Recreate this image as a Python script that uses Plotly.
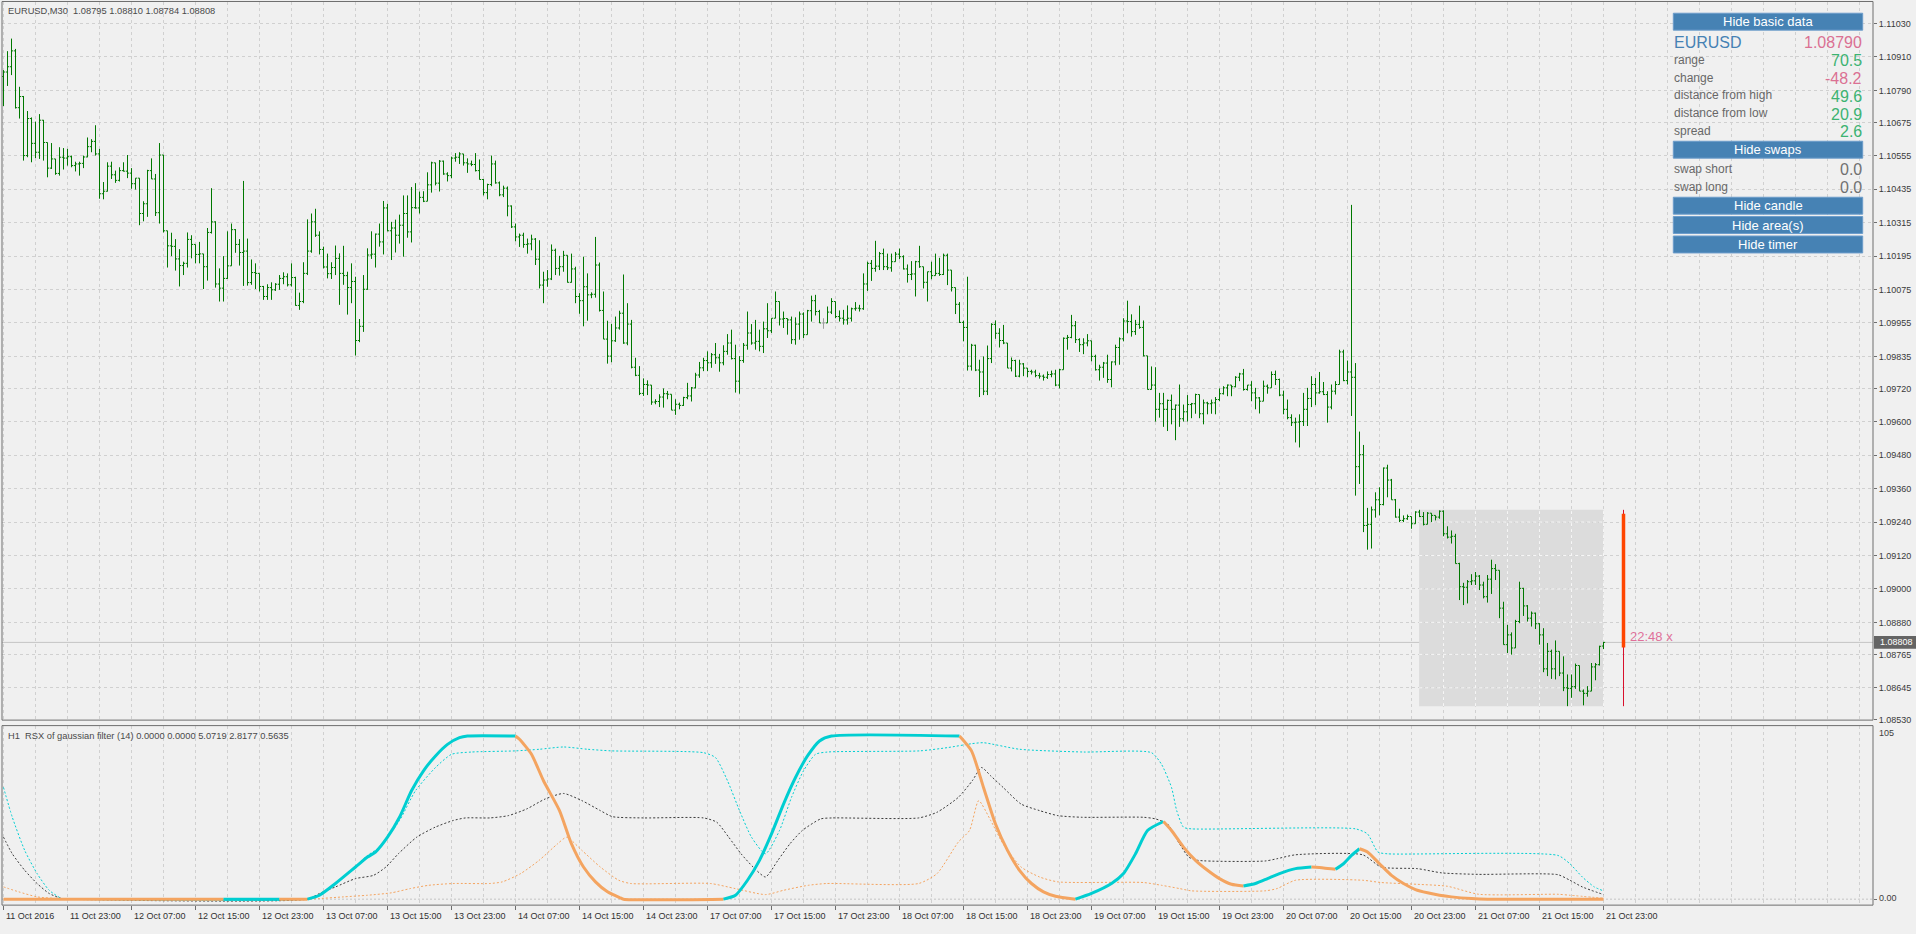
import plotly.graph_objects as go

W, H = 1916, 934
FONT = "Liberation Sans, Arial, Helvetica, sans-serif"

# ---------------- DATA ----------------
# EURUSD M30 bars, prices in points (1 point = 0.00001), bar 0 = 11 Oct 2016 15:00
high_pts = [
    110863,110931,110976,110939,110803,110770,110716,110693,110678,110705,
    110684,110601,110601,110544,110586,110583,110580,110556,110534,110534,
    110556,110621,110615,110665,110580,110461,110532,110534,110502,110514,
    110532,110558,110511,110475,110475,110392,110505,110546,110490,110601,
    110558,110286,110279,110256,110220,110175,110280,110270,110234,110246,
    110202,110296,110439,110320,110151,110195,110284,110312,110292,110256,
    110465,110258,110183,110169,110133,110088,110094,110101,110098,110127,
    110137,110133,110169,110121,110064,110173,110327,110348,110365,110284,
    110229,110204,110173,110233,110205,110232,110139,110169,110121,109969,
    110127,110223,110284,110276,110312,110393,110383,110318,110326,110344,
    110413,110413,110443,110457,110427,110428,110496,110534,110530,110540,
    110538,110496,110552,110565,110568,110562,110546,110538,110565,110542,
    110472,110455,110556,110538,110463,110448,110445,110377,110312,110276,
    110279,110258,110272,110260,110252,110139,110145,110237,110222,110196,
    110214,110198,110204,110157,110062,110193,110133,110065,110264,110172,
    110068,109963,109952,109978,109999,110129,110026,109966,109830,109800,
    109756,109749,109699,109681,109699,109720,109711,109699,109681,109669,
    109690,109740,109725,109776,109815,109830,109853,109847,109883,109844,
    109875,109915,109931,109877,109836,109883,109996,109951,109966,109931,
    109960,110026,109972,110068,109994,109996,109966,109978,109975,109996,
    109993,110002,110053,110056,110002,109972,110014,110044,110032,110000,
    110002,110018,110010,110030,110020,110133,110175,110181,110250,110210,
    110222,110204,110204,110210,110222,110198,110165,110177,110178,110232,
    110157,110139,110175,110204,110189,110204,110204,110145,110082,110030,
    109963,110121,109880,109877,109823,109835,109874,109954,109964,109936,
    109948,109883,109831,109823,109823,109811,109793,109787,109787,109776,
    109770,109781,109784,109787,109790,109903,109912,109984,109962,109900,
    109900,109915,109891,109841,109805,109815,109841,109817,109877,109903,
    109972,110035,109986,109966,110017,109964,109837,109799,109796,109704,
    109704,109680,109698,109662,109734,109662,109696,109668,109701,109698,
    109680,109672,109680,109689,109720,109728,109734,109732,109764,109776,
    109790,109732,109746,109722,109689,109748,109734,109781,109784,109755,
    109712,109680,109627,109615,109627,109704,109722,109764,109758,109779,
    109743,109710,109734,109746,109859,109859,109820,110379,109811,109565,
    109517,109291,109296,109347,109365,109436,109446,109395,109323,109288,
    109264,109267,109258,109279,109284,109276,109276,109272,109264,109282,
    109282,109225,109210,109198,109094,109022,109032,109053,109061,109050,
    109026,109050,109105,109089,109067,108954,108871,108844,108889,109026,
    109004,108942,108919,108915,108877,108859,108806,108782,108815,108770,
    108758,108693,108693,108732,108725,108639,108651,108734,108734,108796,
    108810,
]
low_pts = [
    110734,110806,110845,110725,110689,110538,110550,110532,110547,110544,
    110538,110478,110508,110487,110484,110506,110520,110514,110499,110484,
    110511,110550,110568,110556,110401,110399,110427,110472,110458,110463,
    110499,110475,110437,110434,110306,110320,110336,110472,110339,110312,
    110280,110154,110195,110143,110086,110127,110154,110187,110169,110169,
    110077,110107,110276,110082,110032,110032,110113,110161,110207,110161,
    110088,110089,110092,110077,110068,110038,110038,110038,110070,110074,
    110094,110086,110086,110017,110002,110026,110127,110207,110264,110201,
    110151,110115,110113,110127,110020,110092,109985,110026,109838,109886,
    109923,110074,110185,110154,110229,110201,110284,110181,110208,110240,
    110193,110261,110244,110365,110348,110389,110392,110423,110449,110427,
    110487,110463,110475,110534,110526,110520,110494,110518,110499,110470,
    110413,110399,110446,110455,110410,110407,110338,110296,110248,110228,
    110225,110204,110216,110163,110079,110026,110085,110109,110127,110125,
    110139,110100,110100,110026,109988,109943,109963,110044,110046,109996,
    109897,109809,109814,109887,109931,109880,109875,109792,109764,109696,
    109693,109696,109661,109663,109653,109651,109681,109642,109625,109645,
    109657,109681,109673,109720,109758,109782,109782,109794,109808,109780,
    109803,109841,109824,109705,109701,109812,109859,109877,109859,109853,
    109847,109901,109919,109996,109946,109937,109913,109880,109877,109895,
    109901,109913,109960,109982,109955,109934,109955,109987,109972,109960,
    109949,109949,109960,109999,109996,110002,110070,110106,110139,110145,
    110145,110145,110139,110175,110184,110147,110100,110109,110050,110153,
    110079,110032,110112,110129,110124,110127,110091,110068,109987,109955,
    109889,109784,109784,109782,109689,109696,109696,109811,109898,109867,
    109879,109793,109781,109761,109760,109764,109760,109770,109760,109755,
    109748,109754,109760,109728,109720,109787,109859,109900,109883,109851,
    109843,109871,109817,109784,109748,109758,109740,109724,109803,109805,
    109889,109918,109906,109912,109934,109835,109716,109716,109601,109615,
    109582,109567,109591,109534,109582,109601,109601,109613,109629,109613,
    109591,109627,109629,109627,109674,109698,109692,109692,109724,109746,
    109712,109712,109674,109645,109630,109701,109701,109724,109732,109692,
    109627,109609,109585,109526,109508,109585,109585,109653,109660,109701,
    109696,109597,109645,109698,109734,109746,109734,109621,109335,109377,
    109204,109141,109145,109256,109264,109300,109329,109320,109256,109240,
    109240,109248,109216,109234,109258,109228,109240,109240,109246,109252,
    109189,109181,109163,109091,108960,108942,108948,109014,109014,108996,
    108966,108951,108982,109032,108895,108800,108770,108764,108788,108877,
    108903,108883,108865,108856,108800,108701,108687,108677,108675,108687,
    108633,108579,108609,108641,108633,108582,108613,108645,108672,108725,
    108784,
]
close_pts = [
    110856,110875,110932,110728,110768,110556,110689,110600,110568,110683,
    110603,110511,110544,110492,110550,110547,110552,110520,110526,110528,
    110551,110588,110607,110562,110419,110428,110518,110487,110467,110502,
    110500,110493,110455,110475,110348,110383,110502,110472,110351,110558,
    110286,110232,110230,110185,110161,110169,110255,110237,110201,110203,
    110157,110280,110318,110095,110080,110115,110160,110290,110237,110208,
    110213,110100,110136,110133,110086,110050,110082,110074,110094,110115,
    110121,110092,110118,110018,110032,110133,110213,110318,110270,110219,
    110156,110132,110154,110187,110133,110125,110082,110104,109892,109943,
    110076,110199,110202,110274,110246,110368,110286,110296,110270,110306,
    110348,110282,110369,110368,110406,110392,110451,110530,110457,110536,
    110490,110484,110547,110550,110562,110530,110526,110524,110502,110470,
    110423,110452,110526,110458,110415,110439,110375,110300,110264,110270,
    110237,110239,110256,110184,110091,110109,110113,110216,110151,110157,
    110198,110101,110149,110050,110035,110085,110056,110058,110163,110000,
    109897,109836,109891,109937,109990,109883,109951,109796,109767,109702,
    109734,109732,109671,109673,109689,109701,109699,109642,109663,109659,
    109687,109693,109722,109768,109794,109820,109812,109841,109830,109812,
    109853,109883,109827,109746,109820,109875,109919,109883,109889,109871,
    109934,109927,109972,110032,109969,109971,109966,109895,109951,109987,
    109913,109999,110035,109996,109955,109955,109994,110032,109978,109972,
    109966,109972,110006,110008,110006,110095,110169,110151,110159,110204,
    110157,110153,110175,110202,110193,110149,110129,110131,110175,110157,
    110101,110139,110125,110133,110129,110198,110145,110082,110022,109957,
    109939,109800,109875,109786,109779,109710,109827,109950,109918,109892,
    109883,109793,109820,109764,109808,109793,109781,109779,109766,109764,
    109760,109770,109772,109732,109787,109900,109903,109945,109895,109877,
    109883,109891,109835,109787,109796,109811,109752,109815,109867,109898,
    109962,109960,109924,109950,109939,109837,109716,109732,109645,109665,
    109645,109677,109645,109660,109611,109636,109662,109665,109698,109629,
    109668,109665,109668,109680,109701,109722,109732,109726,109760,109772,
    109716,109732,109704,109686,109674,109728,109722,109770,109752,109696,
    109645,109615,109597,109599,109601,109645,109684,109734,109704,109708,
    109698,109653,109710,109734,109851,109748,109779,109760,109439,109482,
    109228,109232,109284,109320,109303,109434,109391,109320,109258,109246,
    109252,109260,109234,109276,109260,109232,109272,109264,109258,109279,
    109198,109186,109189,109091,109008,109006,109026,109029,109046,109014,
    108972,109035,109073,109067,108931,108800,108835,108788,108883,109002,
    108939,108895,108913,108875,108835,108713,108776,108713,108776,108698,
    108645,108643,108649,108725,108633,108625,108633,108720,108728,108794,
    108808,
]
first_open_pts = 110840
last_open_pts = 108795

# time-axis labels (bar index -> text)
label_bars = [0, 16, 32, 48, 64, 80, 96, 112, 128, 144, 160, 176, 192, 208,
              224, 240, 256, 272, 288, 304, 320, 336, 352, 368, 384, 400]
label_texts = ["11 Oct 2016", "11 Oct 23:00", "12 Oct 07:00", "12 Oct 15:00", "12 Oct 23:00",
               "13 Oct 07:00", "13 Oct 15:00", "13 Oct 23:00", "14 Oct 07:00", "14 Oct 15:00",
               "14 Oct 23:00", "17 Oct 07:00", "17 Oct 15:00", "17 Oct 23:00", "18 Oct 07:00",
               "18 Oct 15:00", "18 Oct 23:00", "19 Oct 07:00", "19 Oct 15:00", "19 Oct 23:00",
               "20 Oct 07:00", "20 Oct 15:00", "20 Oct 23:00", "21 Oct 07:00", "21 Oct 15:00",
               "21 Oct 23:00"]

price_ticks = [1.11030, 1.10910, 1.10790, 1.10675, 1.10555, 1.10435, 1.10315, 1.10195,
               1.10075, 1.09955, 1.09835, 1.09720, 1.09600, 1.09480, 1.09360, 1.09240,
               1.09120, 1.09000, 1.08880, 1.08765, 1.08645, 1.08530]
price_tick_text = ["%.5f" % v for v in price_ticks]

last_price = 1.08808
chart_title = "EURUSD,M30  1.08795 1.08810 1.08784 1.08808"
ind_title = "H1  RSX of gaussian filter (14) 0.0000 0.0000 5.0719 2.8177 0.5635"

# current day (21 Oct) area and candle
day_first_bar, day_last_bar = 354, 400
day_open, day_high, day_low, day_close = 1.09270, 1.09284, 1.08579, 1.08790
candle_bar = 405
timer_text = "22:48 x"

# RSX main line (bar, value, direction of following segment)
rsx_x = [0, 55, 69, 76, 79, 83, 88, 91, 93, 96, 99, 102, 105, 108, 111, 114, 116, 128, 129, 132,
         135, 139, 142, 145, 148, 151, 154, 155, 180, 183, 186, 189, 192, 195, 198, 201, 204, 207,
         239, 242, 245, 248, 251, 254, 257, 260, 263, 268, 272, 277, 280, 283, 286, 290, 292, 295,
         298, 301, 304, 307, 310, 313, 316, 319, 323, 327, 330, 333, 335, 337, 339, 341, 344, 347,
         350, 353, 356, 359, 362, 367, 371, 400]
rsx_v = [0, 0, 0, 0, 2.4, 9.6, 19.7, 25.8, 28.9, 38, 50.2, 66.5, 78.7, 87.8, 94.9, 99, 100, 100, 98, 88.8,
         72.6, 54.3, 33.9, 19.7, 10.6, 4.5, 1, 0, 0, 2.4, 11.6, 23.8, 40, 58.3, 74.6, 87.8, 97, 100,
         100, 90.9, 68.5, 46.1, 29.9, 17.7, 9.6, 4.5, 1.8, 0, 3.5, 9.6, 15.7, 27.8, 42.1, 47.6, 42.1, 31.9,
         23.8, 17.7, 12.6, 9.1, 8.1, 9.6, 12.6, 15.7, 18.7, 19.7, 19.1, 18.3, 21.7, 26.8, 30.9, 28.9, 21.7, 14.6,
         9.6, 5.9, 3.9, 2.4, 1.4, 0.4, 0, 0]
rsx_dir = ["d", "u", "d", "u", "u", "u", "u", "u", "u", "u", "u", "u", "u", "u", "u", "u", "u", "d", "d", "d",
           "d", "d", "d", "d", "d", "d", "d", "d", "u", "u", "u", "u", "u", "u", "u", "u", "u", "u",
           "d", "d", "d", "d", "d", "d", "d", "d", "d", "u", "u", "u", "u", "u", "u", "d", "d", "d",
           "d", "d", "d", "d", "u", "u", "u", "u", "u", "d", "d", "u", "u", "u", "d", "d", "d", "d",
           "d", "d", "d", "d", "d", "d", "d", "d"]

up_x = [0, 2.2, 5.3, 8.4, 11.4, 14.5, 16, 76, 79, 85, 91, 94, 99, 103, 108, 112, 117, 128, 134, 140,
        146, 152, 175, 178, 181, 184, 187, 190.5, 194, 197, 200, 203, 206, 229, 236, 242, 245, 254, 270, 287,
        289.5, 292, 293.3, 295, 297, 338, 341, 343.6, 346, 388.6, 391.6, 394.7, 397.7, 400]
up_v = [68.5, 50.2, 29.9, 15.7, 5.5, 0.4, 0, 0, 2.4, 13.6, 26.8, 31.9, 48.2, 66.5, 80.7, 88.8, 90.2, 90.9, 91.9, 93.3,
        91.9, 90.9, 89.8, 86.8, 72.6, 54.3, 38, 27.8, 42.1, 62.4, 78.7, 88.8, 90.2, 90.9, 92.9, 95.3, 95.9, 91.9, 90.2, 89.8,
        82.7, 68.5, 54.3, 44.1, 43.1, 43.1, 40, 28.9, 27.8, 26.8, 21.7, 13.6, 7.5, 5.07]

mid_x = [0, 2.2, 5.3, 8.4, 11.4, 14.5, 16, 76, 79, 83, 88, 92.5, 95.6, 98.7, 103.3, 107.9, 112.4, 115.5, 121.6, 126.2,
         130.8, 135.4, 140, 144.6, 149.2, 152.2, 160, 175, 178.3, 181.3, 184.4, 187.4, 190.5, 193.6, 196.6, 199.7, 204.3, 207.3, 228.8, 233.4,
         238.7, 242.2, 244.5, 246.8, 249.9, 254.4, 259, 263.6, 269.6, 285, 288, 291, 294, 296.3, 298.6, 315.4, 318.4, 323, 339.8, 344.4,
         353.5, 359.6, 368.8, 388.6, 391.6, 394.7, 400]
mid_v = [38, 27.8, 17.7, 9.6, 3.5, 0.4, 0, 0, 3.5, 7.5, 12.6, 14.6, 19.7, 27.8, 38, 44.1, 48.2, 49.8, 49.8, 51.2,
         55.3, 61.4, 64.8, 60.4, 54.3, 50.6, 49.8, 49.8, 47.2, 38, 27.8, 19.7, 13.6, 23.8, 33.9, 42.1, 49.2, 49.8, 49.8, 53.3,
         62.4, 72.6, 80.7, 75.6, 68.5, 58.3, 54.3, 51.2, 50.2, 50.2, 49.2, 46.1, 33.9, 25.8, 23.8, 23.4, 24.8, 27.2, 27.2, 19.7,
         18.7, 16.1, 15.2, 15, 11.6, 7.5, 2.82]

lo_x = [0, 3.8, 8.4, 14.5, 16, 76, 79, 85, 91, 97, 101.7, 106.3, 112.4, 121.6, 124.7, 129.3, 133.9, 138.5, 140.8, 144.6,
        149.2, 153.8, 156.8, 176.7, 182.9, 190.5, 195.1, 201.2, 205.8, 228.8, 233.4, 238.7, 241.5, 243.8, 246.8, 249.9, 254.4, 259, 263.6, 285,
        289.5, 294, 297, 315.4, 318.4, 323, 339.8, 344.4, 353.5, 361, 368.8, 388.6, 391.6, 400]
lo_v = [7.5, 4.5, 1.4, 0.2, 0, 0, 0.4, 1.4, 2.4, 3.9, 6.5, 8.5, 9.6, 9.6, 10.6, 15.7, 23.8, 33.9, 38, 29.9,
        19.7, 11.6, 9.6, 9.6, 6.5, 2.8, 5.5, 8.5, 9.6, 9.6, 15.7, 35, 42.1, 60.4, 48.2, 33.9, 19.7, 13.6, 10.6, 10.2,
        8.5, 6.5, 5.1, 5.1, 6.5, 11.6, 11.6, 10.2, 9.1, 7.9, 3, 3, 2.4, 0.56]

# info panel
panel_symbol, panel_price = "EURUSD", "1.08790"
panel_labels = ["range", "change", "distance from high", "distance from low", "spread"]
panel_values = ["70.5", "-48.2", "49.6", "20.9", "2.6"]
swap_labels = ["swap short", "swap long"]
swap_values = ["0.0", "0.0"]
button_texts = ["Hide basic data", "Hide swaps", "Hide candle", "Hide area(s)", "Hide timer"]

# ---------------- GEOMETRY / STYLE ----------------
BG = "#f0f0f0"
GRID = "#d0d0d0"
FRAME = "#6e6e6e"
BAR_GREEN = "#007800"
CYAN = "#00ced1"
ORANGE = "#f4a460"

PL, PR = 2, 1873
MAIN_T, MAIN_B = 2, 724
IND_T, IND_B = 730, 910
BAR0_PX = 3.5   # pixel centre of bar 0 (crisp 1px bars)
XR = [(PL - BAR0_PX) / 4.0, (PR - BAR0_PX) / 4.0]
MAIN_YR = [1.10910 - (MAIN_B - 57.3) / 28000.0, 1.10910 + (57.3 - MAIN_T) / 28000.0]
IND_YR = [-(IND_B - 904) / 1.64, (904 - IND_T) / 1.64]


def fx(px):
    return px / W


def fy(py):
    return 1 - py / H


MAIN_DOM = [fy(MAIN_B), fy(MAIN_T)]
IND_DOM = [fy(IND_B), fy(IND_T)]


def price_paper(p):
    return MAIN_DOM[0] + (p - MAIN_YR[0]) / (MAIN_YR[1] - MAIN_YR[0]) * (MAIN_DOM[1] - MAIN_DOM[0])


# ---------------- BUILD ----------------
n = len(close_pts)
bars = list(range(n))
opens = [first_open_pts] + close_pts[:-1]
opens[-1] = last_open_pts
O = [v / 1e5 for v in opens]
C = [v / 1e5 for v in close_pts]
Hh = [max(h, o, c) / 1e5 for h, o, c in zip(high_pts, opens, close_pts)]
Ll = [min(l, o, c) / 1e5 for l, o, c in zip(low_pts, opens, close_pts)]

norm = [i for i in bars if opens[i] != close_pts[i]]
doji = [i for i in bars if opens[i] == close_pts[i]]

fig = go.Figure()
fig.add_trace(go.Ohlc(
    x=norm, open=[O[i] for i in norm], high=[Hh[i] for i in norm],
    low=[Ll[i] for i in norm], close=[C[i] for i in norm],
    increasing=dict(line=dict(color=BAR_GREEN, width=1)),
    decreasing=dict(line=dict(color=BAR_GREEN, width=1)),
    tickwidth=0.4, xaxis="x", yaxis="y", hoverinfo="skip", showlegend=False))
if doji:
    fig.add_trace(go.Ohlc(
        x=doji, open=[O[i] for i in doji], high=[Hh[i] for i in doji],
        low=[Ll[i] for i in doji], close=[C[i] for i in doji],
        increasing=dict(line=dict(color="#a0a0a0", width=1)),
        decreasing=dict(line=dict(color="#a0a0a0", width=1)),
        tickwidth=0.4, xaxis="x", yaxis="y", hoverinfo="skip", showlegend=False))

# daily candle (timer)
fig.add_trace(go.Scatter(x=[candle_bar, candle_bar], y=[day_low, day_high], mode="lines",
                         line=dict(color="#d8102c", width=1), xaxis="x", yaxis="y",
                         hoverinfo="skip", showlegend=False))
fig.add_trace(go.Scatter(x=[candle_bar, candle_bar], y=[day_open, day_close], mode="lines",
                         line=dict(color="#ff4500", width=3.5), xaxis="x", yaxis="y",
                         hoverinfo="skip", showlegend=False))

# indicator dotted lines
for xs, vs, col in [(lo_x, lo_v, ORANGE), (mid_x, mid_v, "#3c3c3c"), (up_x, up_v, CYAN)]:
    fig.add_trace(go.Scatter(x=xs, y=vs, mode="lines",
                             line=dict(color=col, width=1, dash="2px,2px", shape="spline", smoothing=0.6),
                             xaxis="x2", yaxis="y2", hoverinfo="skip", showlegend=False))

# indicator main line, split by direction
segs = []
cur = None
for i in range(len(rsx_x) - 1):
    d = rsx_dir[i]
    if cur is None or cur["d"] != d:
        cur = {"d": d, "x": [rsx_x[i]], "y": [rsx_v[i]]}
        segs.append(cur)
    cur["x"].append(rsx_x[i + 1])
    cur["y"].append(rsx_v[i + 1])
for s in segs:
    fig.add_trace(go.Scatter(x=s["x"], y=s["y"], mode="lines",
                             line=dict(color=CYAN if s["d"] == "u" else ORANGE, width=3,
                                       shape="spline", smoothing=0.6),
                             xaxis="x2", yaxis="y2", hoverinfo="skip", showlegend=False))

shapes = []
# day area box
shapes.append(dict(type="rect", xref="x", yref="y", x0=day_first_bar - 0.1, x1=day_last_bar,
                   y0=day_low, y1=day_high, fillcolor="#dcdcdc", line=dict(width=0), layer="below"))
# lighter grid inside the area
for b in range(0, 470, 8):
    if day_first_bar < b <= day_last_bar:
        shapes.append(dict(type="line", xref="x", yref="y", x0=b, x1=b, y0=day_low, y1=day_high,
                           line=dict(color="#f6f6f6", width=1, dash="3px,3px"), layer="between"))
for p in price_ticks:
    if day_low < p < day_high:
        shapes.append(dict(type="line", xref="x", yref="y", x0=day_first_bar - 0.1, x1=day_last_bar,
                           y0=p, y1=p, line=dict(color="#f6f6f6", width=1, dash="3px,3px"),
                           layer="between"))
# bid line
shapes.append(dict(type="line", xref="paper", yref="paper", x0=fx(PL), x1=fx(PR),
                   y0=price_paper(last_price), y1=price_paper(last_price),
                   line=dict(color="#c4c4c4", width=1), layer="between"))
# indicator zero level
shapes.append(dict(type="line", xref="x2", yref="y2", x0=XR[0], x1=XR[1], y0=0, y1=0,
                   line=dict(color="#c4c4c4", width=1, dash="2px,2px"), layer="below"))
# frames
shapes.append(dict(type="rect", xref="paper", yref="paper", x0=fx(PL), x1=fx(PR),
                   y0=fy(MAIN_B), y1=fy(MAIN_T - 0.5), line=dict(color=FRAME, width=1),
                   fillcolor="rgba(0,0,0,0)", layer="above"))
shapes.append(dict(type="rect", xref="paper", yref="paper", x0=fx(PL), x1=fx(PR),
                   y0=fy(IND_B), y1=fy(IND_T - 0.5), line=dict(color=FRAME, width=1),
                   fillcolor="rgba(0,0,0,0)", layer="above"))
# last price tag
lp = price_paper(last_price)
shapes.append(dict(type="rect", xref="paper", yref="paper", x0=fx(PR + 1), x1=fx(W),
                   y0=lp - 6.5 / H, y1=lp + 6.5 / H, fillcolor="#646464", line=dict(width=0),
                   layer="above"))

ann = []
ann.append(dict(x=fx(1878), y=lp, xref="paper", yref="paper", text="%.5f" % last_price,
                showarrow=False, xanchor="left", yanchor="middle",
                font=dict(family=FONT, size=9, color="#ffffff")))
ann.append(dict(x=fx(6), y=fy(10.7), xref="paper", yref="paper", text=chart_title, showarrow=False,
                xanchor="left", yanchor="middle", font=dict(family=FONT, size=9.3, color="#4a4a4a")))
ann.append(dict(x=fx(6), y=fy(740), xref="paper", yref="paper", text=ind_title, showarrow=False,
                xanchor="left", yanchor="middle", font=dict(family=FONT, size=9.3, color="#4a4a4a")))
ann.append(dict(x=fx(1877), y=fy(737), xref="paper", yref="paper", text="105", showarrow=False,
                xanchor="left", yanchor="middle", font=dict(family=FONT, size=9, color="#404040")))
ann.append(dict(x=fx(1877), y=fy(903), xref="paper", yref="paper", text="0.00", showarrow=False,
                xanchor="left", yanchor="middle", font=dict(family=FONT, size=9, color="#404040")))
for b, t in zip(label_bars, label_texts):
    ann.append(dict(x=b, y=fy(921), xref="x2", yref="paper", text=t, showarrow=False,
                    xanchor="left", yanchor="middle", xshift=0,
                    font=dict(family=FONT, size=9, color="#303030")))
# timer text
ann.append(dict(x=fx(1628), y=fy(640), xref="paper", yref="paper", text=timer_text, showarrow=False,
                xanchor="left", yanchor="middle", font=dict(family=FONT, size=13, color="#e0709a")))

# info panel
BX0, BX1 = 1673.3, 1862.7
button_tops = [13.3, 142.0, 198.3, 217.7, 237.3]
for top, t in zip(button_tops, button_texts):
    shapes.append(dict(type="rect", xref="paper", yref="paper", x0=fx(BX0), x1=fx(BX1),
                       y0=fy(top + 17), y1=fy(top), fillcolor="#4682b4",
                       line=dict(color="#6c9ccb", width=1), layer="above"))
    ann.append(dict(x=fx((BX0 + BX1) / 2), y=fy(top + 8.7), xref="paper", yref="paper", text=t,
                    showarrow=False, xanchor="center", yanchor="middle",
                    font=dict(family=FONT, size=13, color="#ffffff")))
ann.append(dict(x=fx(1672), y=fy(42.7), xref="paper", yref="paper", text=panel_symbol, showarrow=False,
                xanchor="left", yanchor="middle", font=dict(family=FONT, size=16, color="#4682b4")))
ann.append(dict(x=fx(1864), y=fy(42.7), xref="paper", yref="paper", text=panel_price, showarrow=False,
                xanchor="right", yanchor="middle", font=dict(family=FONT, size=16, color="#db7093")))
row_y = [60.0, 78.0, 96.0, 114.0, 131.7]
for yy, lab, val in zip(row_y, panel_labels, panel_values):
    ann.append(dict(x=fx(1672), y=fy(yy), xref="paper", yref="paper", text=lab, showarrow=False,
                    xanchor="left", yanchor="middle", font=dict(family=FONT, size=12, color="#686868")))
    col = "#db7093" if val.startswith("-") else "#3cb371"
    ann.append(dict(x=fx(1864), y=fy(yy + 0.7), xref="paper", yref="paper", text=val, showarrow=False,
                    xanchor="right", yanchor="middle", font=dict(family=FONT, size=16, color=col)))
for yy, lab, val in zip([170.0, 187.7], swap_labels, swap_values):
    ann.append(dict(x=fx(1672), y=fy(yy), xref="paper", yref="paper", text=lab, showarrow=False,
                    xanchor="left", yanchor="middle", font=dict(family=FONT, size=12, color="#686868")))
    ann.append(dict(x=fx(1864), y=fy(yy + 0.7), xref="paper", yref="paper", text=val, showarrow=False,
                    xanchor="right", yanchor="middle", font=dict(family=FONT, size=16, color="#707070")))

fig.update_layout(
    width=W, height=H, margin=dict(l=0, r=0, t=0, b=0, pad=0),
    paper_bgcolor=BG, plot_bgcolor=BG, showlegend=False, hovermode=False,
    font=dict(family=FONT, size=9, color="#404040"),
    xaxis=dict(domain=[fx(PL), fx(PR)], range=XR, anchor="y", tickmode="linear", tick0=0, dtick=8,
               showticklabels=False, ticks="", showgrid=True, gridcolor=GRID, griddash="3px,3px",
               gridwidth=1, zeroline=False, showline=False, rangeslider=dict(visible=False),
               fixedrange=True),
    yaxis=dict(domain=MAIN_DOM, range=MAIN_YR, anchor="x", side="right", tickmode="array",
               tickvals=price_ticks, ticktext=price_tick_text, ticks="outside", ticklen=3,
               tickcolor=FRAME, tickfont=dict(family=FONT, size=9, color="#3a3a3a"),
               showgrid=True, gridcolor=GRID, griddash="3px,3px", gridwidth=1,
               zeroline=False, showline=False, fixedrange=True),
    xaxis2=dict(domain=[fx(PL), fx(PR)], range=XR, anchor="y2", tickmode="array",
                tickvals=label_bars, ticks="outside", ticklen=4, tickcolor=FRAME,
                showticklabels=False, showgrid=True, gridcolor=GRID, griddash="3px,3px",
                minor=dict(tickmode="linear", tick0=0, dtick=8, showgrid=True, gridcolor=GRID,
                           griddash="3px,3px", ticks=""),
                zeroline=False, showline=False, fixedrange=True),
    yaxis2=dict(domain=IND_DOM, range=IND_YR, anchor="x2", side="right", tickmode="array",
                tickvals=[0], ticks="outside", ticklen=3, tickcolor=FRAME, showticklabels=False,
                showgrid=False, zeroline=False, showline=False, fixedrange=True),
    shapes=shapes, annotations=ann,
)

fig.write_html("out.html", config={"displayModeBar": False},
               post_script="document.body.style.margin='0';document.body.style.overflow='hidden';")
